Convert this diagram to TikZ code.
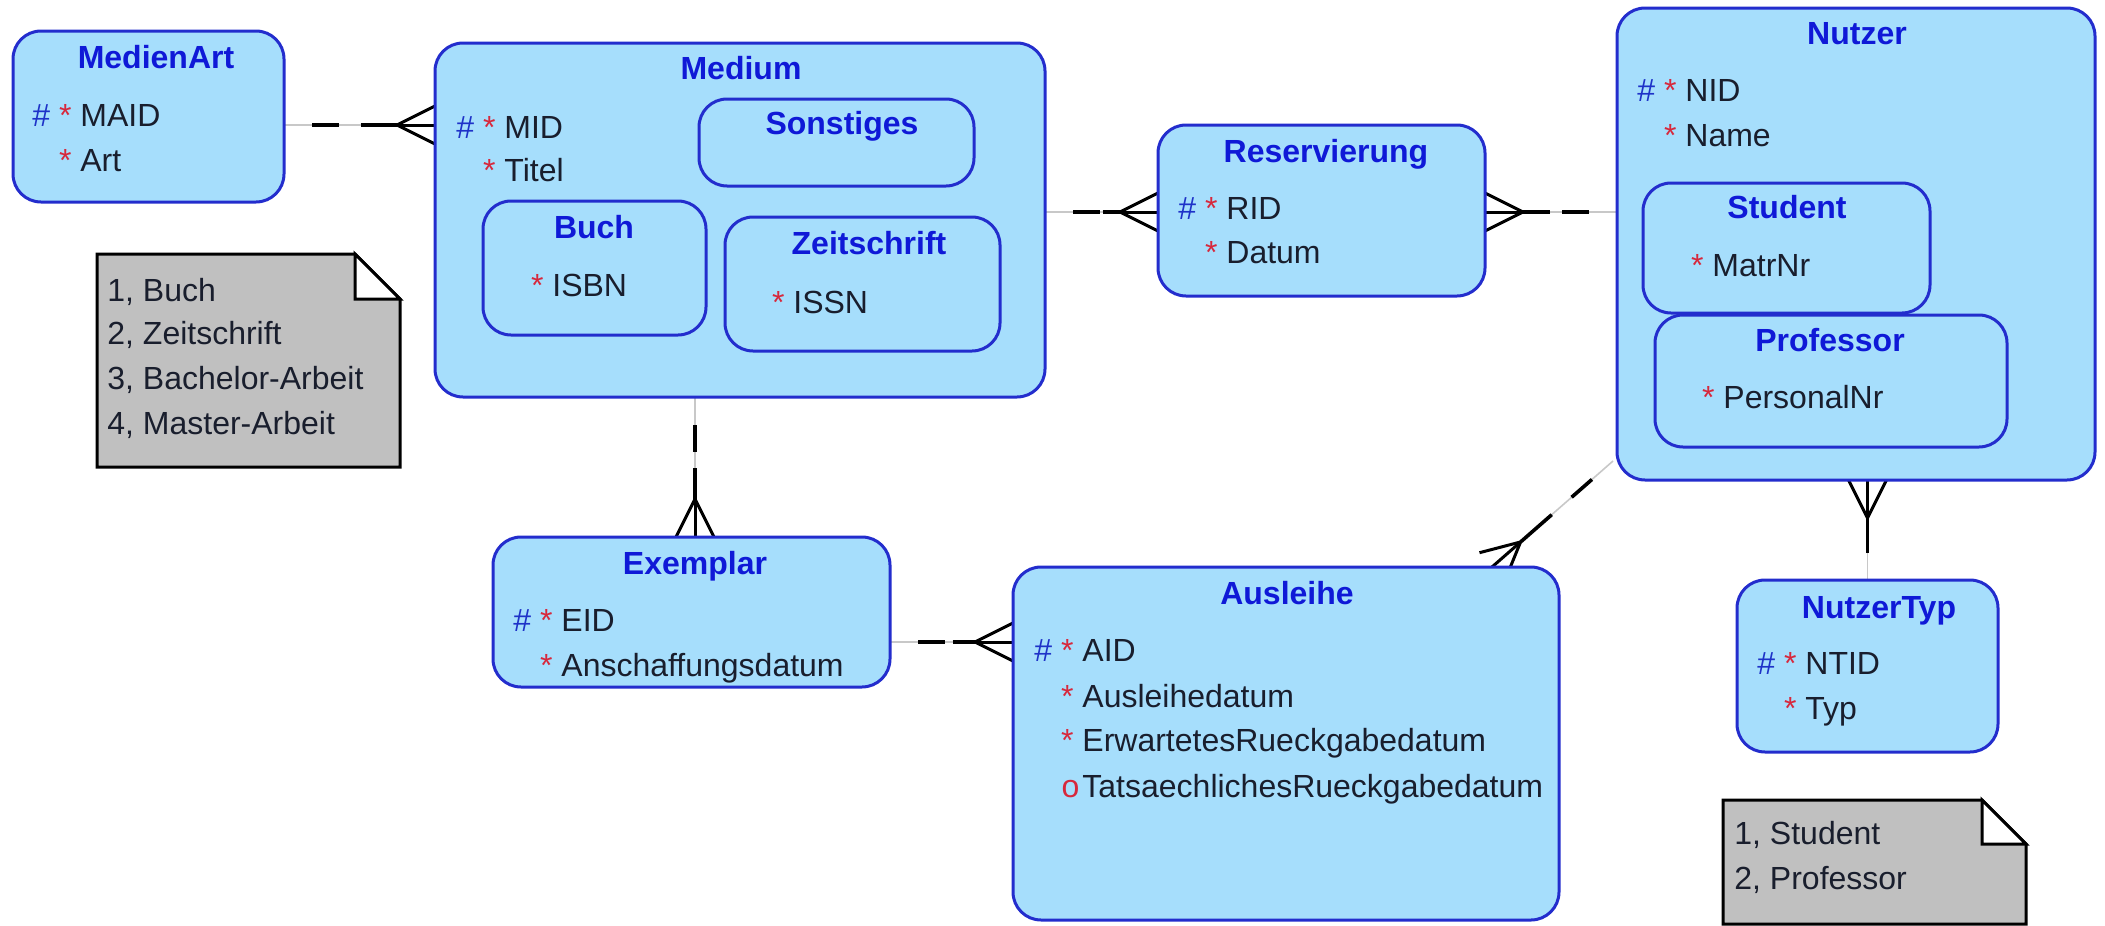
\documentclass[tikz,border=0pt]{standalone}
\usepackage{fontspec}
\setmainfont{Liberation Sans}
\usetikzlibrary{calc,backgrounds}
\definecolor{entfill}{RGB}{166,222,252}
\definecolor{entborder}{RGB}{35,45,205}
\definecolor{ttlblue}{RGB}{15,25,215}
\definecolor{attrtext}{RGB}{25,30,45}
\definecolor{hashblue}{RGB}{30,50,200}
\definecolor{starred}{RGB}{215,40,60}
\definecolor{notefill}{RGB}{192,192,192}
\definecolor{linegray}{RGB}{200,200,200}
\newcommand\hs{\llap{\textcolor{hashblue}{\#}\ \textcolor{starred}{*}\ }}
\newcommand\st{\llap{\textcolor{starred}{*}\ }}
\newcommand\op{\llap{\textcolor{starred}{o}\hspace{1.5pt}}}
\tikzset{
  ent/.style={draw=entborder, fill=entfill, line width=1.5pt, rounded corners=14pt,
    inner sep=0pt, outer sep=0pt, anchor=north west},
  ttl/.style={font=\fontsize{16}{19}\selectfont\bfseries, text=ttlblue, anchor=base, inner sep=0pt},
  attr/.style={font=\fontsize{16}{19}\selectfont, text=attrtext, anchor=base west, inner sep=0pt},
  notebox/.style={inner sep=0pt, outer sep=0pt, anchor=north west},
  noteshape/.style={draw=black, fill=notefill, line width=1.5pt, line join=miter},
  foldshape/.style={draw=black, fill=white, line width=1.5pt, line join=miter},
  thinln/.style={draw=linegray, line width=0.8pt},
  blk/.style={draw=black, line width=1.8pt},
  crowln/.style={draw=black, line width=1.5pt},
}
\newcommand\crowfoot[2]{%
  \coordinate (cT) at ($(#2)!19pt!(#1)$);
  \draw[crowln] (cT) -- ($(#2)!9.5pt!90:(#1)$);
  \draw[crowln] (cT) -- (#2);
  \draw[crowln] (cT) -- ($(#2)!9.5pt!-90:(#1)$);
}
\newcommand\optlink[2]{%
  \draw[thinln] (#1) -- (#2);
  \crowfoot{#1}{#2}
  \coordinate (cM) at ($(#1)!0.5!(cT)$);
  \draw[blk] ($(#1)!14pt!(#2)$) -- ($(#1)!27.5pt!(#2)$);
  \draw[blk] ($(cM)!10pt!(cT)$) -- (cT);
}
\newcommand\manlink[2]{%
  \draw[thinln] (#1) -- (#2);
  \crowfoot{#1}{#2}
  \draw[blk] ($(#1)!13.5pt!(#2)$) -- (cT);
}
\begin{document}
\begin{tikzpicture}[x=0.5pt,y=-0.5pt]
\useasboundingbox (0,0) rectangle (2105,926);

% ---------- entities ----------
\node[ent, minimum width=135.5pt, minimum height=85.5pt] (ma) at (13,31) {};
\node[ttl] (maT) at (156,68.5) {MedienArt};
\node[attr] (ma1) at (80,126) {\hs MAID};
\node[attr] (ma2) at (80,171.5) {\st Art};

\node[ent, minimum width=305pt, minimum height=177pt] (me) at (435,43) {};
\node[ttl] (meT) at (741,79.5) {Medium};
\node[attr] (me1) at (504,138.5) {\hs MID};
\node[attr] (me2) at (504,181.5) {\st Titel};
\node[ent, minimum width=137.5pt, minimum height=43.5pt] (so) at (699,99) {};
\node[ttl] (soT) at (842,134.5) {Sonstiges};
\node[ent, minimum width=111.5pt, minimum height=67pt] (bu) at (483,201) {};
\node[ttl] (buT) at (594,238.5) {Buch};
\node[attr] (bu1) at (552,296.5) {\st ISBN};
\node[ent, minimum width=137.5pt, minimum height=67pt] (ze) at (725,217) {};
\node[ttl] (zeT) at (869,254.5) {Zeitschrift};
\node[attr] (ze1) at (793,313.5) {\st ISSN};

\node[ent, minimum width=163.5pt, minimum height=85.5pt] (re) at (1158,125) {};
\node[ttl] (reT) at (1326,162.5) {Reservierung};
\node[attr] (re1) at (1226,219.5) {\hs RID};
\node[attr] (re2) at (1226,263.5) {\st Datum};

\node[ent, minimum width=239pt, minimum height=236pt] (nu) at (1617,8) {};
\node[ttl] (nuT) at (1857,44.5) {Nutzer};
\node[attr] (nu1) at (1685,101.5) {\hs NID};
\node[attr] (nu2) at (1685,146.5) {\st Name};
\node[ent, minimum width=143.5pt, minimum height=65pt] (sd) at (1643,183) {};
\node[ttl] (sdT) at (1787,218.5) {Student};
\node[attr] (sd1) at (1712,276.5) {\st MatrNr};
\node[ent, minimum width=176pt, minimum height=66pt] (pr) at (1655,315) {};
\node[ttl] (prT) at (1830,351.5) {Professor};
\node[attr] (pr1) at (1723,408.5) {\st PersonalNr};

\node[ent, minimum width=198.5pt, minimum height=75pt] (ex) at (493,537) {};
\node[ttl] (exT) at (695,574.5) {Exemplar};
\node[attr] (ex1) at (561,631.5) {\hs EID};
\node[attr] (ex2) at (561,676.5) {\st Anschaffungsdatum};

\node[ent, minimum width=273pt, minimum height=176.5pt] (au) at (1013,567) {};
\node[ttl] (auT) at (1287,604.5) {Ausleihe};
\node[attr] (au1) at (1082,661.5) {\hs AID};
\node[attr] (au2) at (1082,707) {\st Ausleihedatum};
\node[attr] (au3) at (1082,751.5) {\st ErwartetesRueckgabedatum};
\node[attr] (au4) at (1082,797) {\op TatsaechlichesRueckgabedatum};

\node[ent, minimum width=130.5pt, minimum height=86pt] (nt) at (1737,580) {};
\node[ttl] (ntT) at (1879,618.5) {NutzerTyp};
\node[attr] (nt1) at (1805,674.5) {\hs NTID};
\node[attr] (nt2) at (1805,719.5) {\st Typ};

% ---------- notes ----------
\node[notebox, minimum width=151.5pt, minimum height=106.5pt] (n1) at (97,254) {};
\filldraw[noteshape] (n1.north west) -- ($(n1.north east)+(-45,0)$) -- ($(n1.north east)+(0,45)$)
  -- (n1.south east) -- (n1.south west) -- cycle;
\filldraw[foldshape] ($(n1.north east)+(-45,0)$) -- ($(n1.north east)+(-45,45)$) -- ($(n1.north east)+(0,45)$) -- cycle;
\node[attr] (n1a) at (107,301.5) {1, Buch};
\node[attr] (n1b) at (107,344.5) {2, Zeitschrift};
\node[attr] (n1c) at (107,389.5) {3, Bachelor-Arbeit};
\node[attr] (n1d) at (107,434.5) {4, Master-Arbeit};

\node[notebox, minimum width=151.5pt, minimum height=62pt] (n2) at (1723,800) {};
\filldraw[noteshape] (n2.north west) -- ($(n2.north east)+(-44,0)$) -- ($(n2.north east)+(0,44)$)
  -- (n2.south east) -- (n2.south west) -- cycle;
\filldraw[foldshape] ($(n2.north east)+(-44,0)$) -- ($(n2.north east)+(-44,44)$) -- ($(n2.north east)+(0,44)$) -- cycle;
\node[attr] (n2a) at (1734,844.5) {1, Student};
\node[attr] (n2b) at (1734,889.5) {2, Professor};

% ---------- connectors ----------
\begin{pgfonlayer}{background}
\coordinate (a1) at (ma.east |- 0,125);
\coordinate (b1) at (me.west |- 0,125);
\optlink{a1}{b1}
\coordinate (a2) at (me.east |- 0,212);
\coordinate (b2) at (re.west |- 0,212);
\optlink{a2}{b2}
\coordinate (a3) at (nu.west |- 0,212);
\coordinate (b3) at (re.east |- 0,212);
\optlink{a3}{b3}
\coordinate (a4) at ($(me.south)+(-45,0)$);
\coordinate (b4) at (a4 |- ex.north);
\optlink{a4}{b4}
\coordinate (a5) at (ex.east |- 0,642);
\coordinate (b5) at (au.west |- 0,642);
\optlink{a5}{b5}
\coordinate (a6) at ($(nu.south west)+(-4,-19)$);
\coordinate (b6) at ($(au.north west)+(479,0)$);
\optlink{a6}{b6}
\coordinate (a7) at (nt.north);
\coordinate (b7) at (nt.north |- nu.south);
\manlink{a7}{b7}
\end{pgfonlayer}
\end{tikzpicture}
\end{document}
